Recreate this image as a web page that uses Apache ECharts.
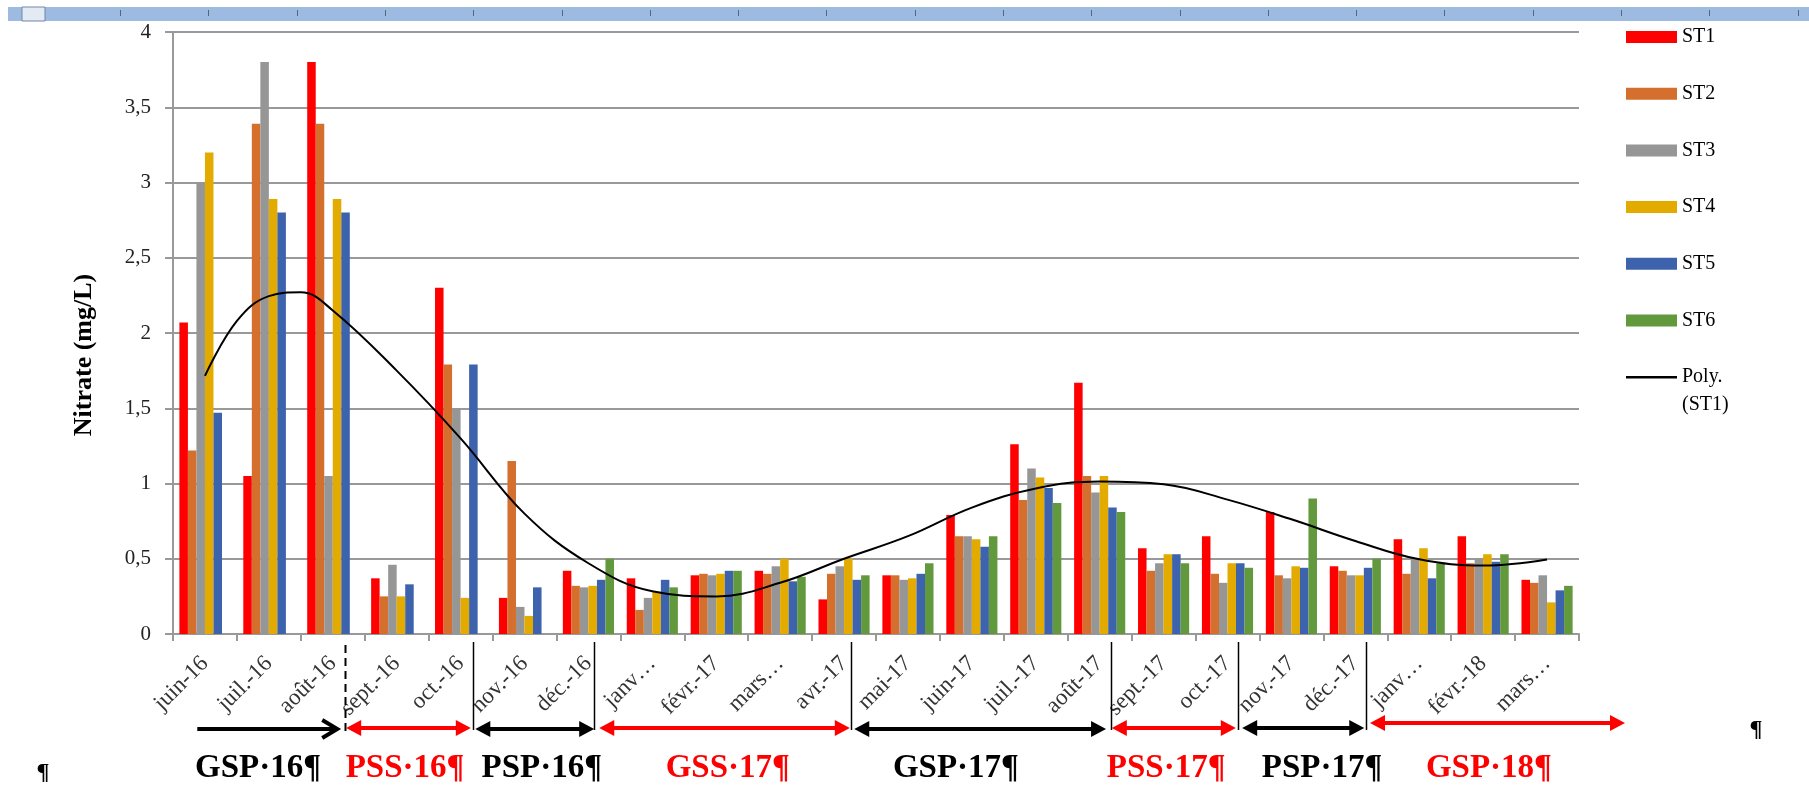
<!DOCTYPE html>
<html><head><meta charset="utf-8">
<script src="https://cdn.jsdelivr.net/npm/echarts@6/dist/echarts.min.js"></script>
<style>html,body{margin:0;padding:0;background:#fff}#c{width:1809px;height:789px}</style>
</head><body><div id="c"></div>
<script>
// ---- data ----
const categories = ['juin-16','juil.-16','août-16','sept.-16','oct.-16','nov.-16','déc.-16','janv…','févr.-17','mars…','avr.-17','mai-17','juin-17','juil.-17','août-17','sept.-17','oct.-17','nov.-17','déc.-17','janv…','févr.-18','mars…'];
const ST1 = [2.07,1.05,3.8,0.37,2.3,0.24,0.42,0.37,0.39,0.42,0.23,0.39,0.79,1.26,1.67,0.57,0.65,0.81,0.45,0.63,0.65,0.36];
const ST2 = [1.22,3.39,3.39,0.25,1.79,1.15,0.32,0.16,0.40,0.40,0.40,0.39,0.65,0.89,1.05,0.42,0.40,0.39,0.42,0.40,0.47,0.34];
const ST3 = [3.0,3.8,1.05,0.46,1.5,0.18,0.31,0.24,0.39,0.45,0.45,0.36,0.65,1.10,0.94,0.47,0.34,0.37,0.39,0.50,0.50,0.39];
const ST4 = [3.2,2.89,2.89,0.25,0.24,0.12,0.32,0.28,0.40,0.50,0.50,0.37,0.63,1.04,1.05,0.53,0.47,0.45,0.39,0.57,0.53,0.21];
const ST5 = [1.47,2.8,2.8,0.33,1.79,0.31,0.36,0.36,0.42,0.35,0.36,0.40,0.58,0.97,0.84,0.53,0.47,0.44,0.44,0.37,0.48,0.29];
const ST6 = [null,null,null,null,null,null,0.50,0.31,0.42,0.38,0.39,0.47,0.65,0.87,0.81,0.47,0.44,0.90,0.50,0.47,0.53,0.32];
// polynomial trendline of ST1 (x in category index units)
const polyX = [0,0.5,1,1.5,2,3,4,5,6,7,8,9,10,11,12,13,14,15,16,17,18,19,20,21];
const polyY = [1.715,2.08,2.245,2.27,2.15,1.75,1.30,0.80,0.47,0.284,0.25,0.34,0.50,0.65,0.84,0.967,1.013,0.995,0.893,0.762,0.618,0.496,0.455,0.495];
const seriesNames = ['ST1','ST2','ST3','ST4','ST5','ST6'];
const trendName = 'Poly. (ST1)';
const trendLines = ['Poly.', '(ST1)'];
const yAxisTitle = 'Nitrate (mg/L)';
const periodNames = ['GSP·16¶','PSS·16¶','PSP·16¶','GSS·17¶','GSP·17¶','PSS·17¶','PSP·17¶','GSP·18¶'];

// ---- styles / layout ----
const colors = ['#ff0000','#d46f2d','#969696','#e3aa00','#3e63ad','#61993c'];
const G = {left:173, right:230, top:32, bottom:155, W:1809, H:789};
const catW = (G.W - G.left - G.right) / categories.length;
const cx = i => G.left + (i + 0.5) * catW;
const periodLayout = [
  {from:-0.12, to:2.07, y:729, color:'#000', open:true,  label:0.83},
  {from:2.21,  to:4.16, y:728, color:'#ff0000', label:3.13},
  {from:4.23,  to:6.09, y:729, color:'#000', label:5.27},
  {from:6.17,  to:10.09,y:728, color:'#ff0000', label:8.18},
  {from:10.16, to:14.1, y:729, color:'#000', label:11.75},
  {from:14.19, to:16.13,y:728, color:'#ff0000', label:15.04},
  {from:16.23, to:18.14,y:728, color:'#000', label:17.48},
  {from:18.23, to:22.22,y:723, color:'#ff0000', label:20.09}
];
const sepLines = [{at:2.19, dashed:true},{at:4.19},{at:6.09},{at:10.11},{at:14.18},{at:16.16},{at:18.17}];
const LEG = {left:1626, top:27, w:51, h:12, gap:36.7, lh:20, fs:20};

const serif = '"Liberation Serif", "Times New Roman", serif';
const graphic = [];
// Word ruler bar at top
graphic.push({type:'rect', shape:{x:8,y:7,width:G.W-8,height:14}, style:{fill:'#9dbbe1'}, silent:true});
graphic.push({type:'rect', shape:{x:22,y:7,width:23,height:14}, style:{fill:'#e4eaf3', stroke:'#6f87ad', lineWidth:1}, silent:true});
for (let x = 120; x < G.W; x += 88.3) {
  graphic.push({type:'line', shape:{x1:Math.round(x)+0.5,y1:10,x2:Math.round(x)+0.5,y2:16}, style:{stroke:'#55657a', lineWidth:1}, silent:true});
}
// separators
sepLines.forEach(s => {
  const x = Math.round(cx(s.at)) + 0.5;
  graphic.push({type:'line', shape:{x1:x, y1:s.dashed?645:642, x2:x, y2:s.dashed?733:730},
    style:{stroke:'#000', lineWidth:s.dashed?2:1.5, lineDash:s.dashed?[8,5]:null}, silent:true, z:10});
});
// arrows and period labels
const HL = 15, HW = 8;
periodLayout.forEach((p, k) => {
  const x1 = cx(p.from), x2 = cx(p.to), y = p.y;
  if (p.open) {
    graphic.push({type:'line', shape:{x1:x1, y1:y, x2:x2-2, y2:y}, style:{stroke:p.color, lineWidth:4}, silent:true, z:10});
    graphic.push({type:'polyline', shape:{points:[[x2-HL,y-9],[x2,y],[x2-HL,y+9]]}, style:{stroke:p.color, lineWidth:4, fill:null}, silent:true, z:10});
  } else {
    graphic.push({type:'line', shape:{x1:x1+HL-2, y1:y, x2:x2-HL+2, y2:y}, style:{stroke:p.color, lineWidth:4}, silent:true, z:10});
    graphic.push({type:'polygon', shape:{points:[[x1,y],[x1+HL,y-HW],[x1+HL,y+HW]]}, style:{fill:p.color}, silent:true, z:10});
    graphic.push({type:'polygon', shape:{points:[[x2,y],[x2-HL,y-HW],[x2-HL,y+HW]]}, style:{fill:p.color}, silent:true, z:10});
  }
  graphic.push({type:'text', x:cx(p.label), y:768, style:{text:periodNames[k], fill:p.color,
    font:'bold 33px ' + serif, align:'center', verticalAlign:'middle'}, silent:true, z:10});
});
// pilcrows
graphic.push({type:'text', x:43, y:773, style:{text:'¶', fill:'#000', font:'bold 24px ' + serif, align:'center', verticalAlign:'middle'}, silent:true});
graphic.push({type:'text', x:1756, y:730, style:{text:'¶', fill:'#000', font:'bold 24px ' + serif, align:'center', verticalAlign:'middle'}, silent:true});
// y-axis title
graphic.push({type:'text', x:84, y:355, rotation:Math.PI/2, style:{text:yAxisTitle, fill:'#000',
  font:'bold 26px ' + serif, align:'center', verticalAlign:'middle'}, silent:true});
// second line of the trendline legend entry
graphic.push({type:'text', x:LEG.left + LEG.w + 5, y:LEG.top + 6*(LEG.lh + LEG.gap) + LEG.lh/2 + 28,
  style:{text:trendLines[1], fill:'#000', font:LEG.fs + 'px ' + serif, align:'left', verticalAlign:'middle'}, silent:true});

const allST = [ST1, ST2, ST3, ST4, ST5, ST6];
const series = seriesNames.map((n, i) => ({
  name:n, type:'bar', data:allST[i], barGap:'0%', barCategoryGap:'20%',
  itemStyle:{color:colors[i]}, xAxisIndex:0, yAxisIndex:0
}));
series.push({
  name:trendName, type:'line', xAxisIndex:1, yAxisIndex:0, smooth:0.4, symbol:'none', showSymbol:false,
  data: polyX.map((x, i) => [x, polyY[i]]), lineStyle:{color:'#000', width:2}, itemStyle:{color:'#000'}, z:5
});

const chart = echarts.init(document.getElementById('c'), null, {renderer:'canvas'});
chart.setOption({
  animation:false,
  backgroundColor:'#fff',
  grid:{left:G.left, right:G.right, top:G.top, bottom:G.bottom, containLabel:false, outerBoundsMode:'none'},
  legend:{
    orient:'vertical', left:LEG.left, top:LEG.top, padding:0, itemWidth:LEG.w, itemHeight:LEG.h, itemGap:LEG.gap,
    symbolKeepAspect:true,
    formatter: n => n === trendName ? trendLines[0] : n,
    textStyle:{fontFamily:serif, fontSize:LEG.fs, color:'#000', lineHeight:LEG.lh},
    data: seriesNames.map(n => ({name:n, icon:'rect'})).concat([{name:trendName,
      icon:'path://M0 0H100V5H0Z', itemStyle:{color:'#000'}}])
  },
  xAxis:[{
    type:'category', data:categories, boundaryGap:true,
    axisLine:{show:true, onZero:false, lineStyle:{color:'#999', width:2}},
    axisTick:{show:true, alignWithLabel:false, length:7, lineStyle:{color:'#999', width:2}},
    axisLabel:{interval:0, rotate:45, margin:26, fontFamily:serif, fontSize:23, color:'#333', hideOverlap:false},
    splitLine:{show:false}
  },{
    type:'value', min:-0.5, max:21.5, show:false,
    axisLine:{show:false, onZero:false}, splitLine:{show:false}
  }],
  yAxis:{
    type:'value', min:0, max:4, interval:0.5,
    axisLine:{show:true, onZero:false, lineStyle:{color:'#999', width:2}},
    axisTick:{show:true, length:8, lineStyle:{color:'#999', width:2}},
    axisLabel:{margin:22, fontFamily:serif, fontSize:21, color:'#222',
      formatter: v => String(v).replace('.', ',')},
    splitLine:{show:true, lineStyle:{color:'#999', width:2}}
  },
  series: series,
  graphic: graphic
});
</script></body></html>
